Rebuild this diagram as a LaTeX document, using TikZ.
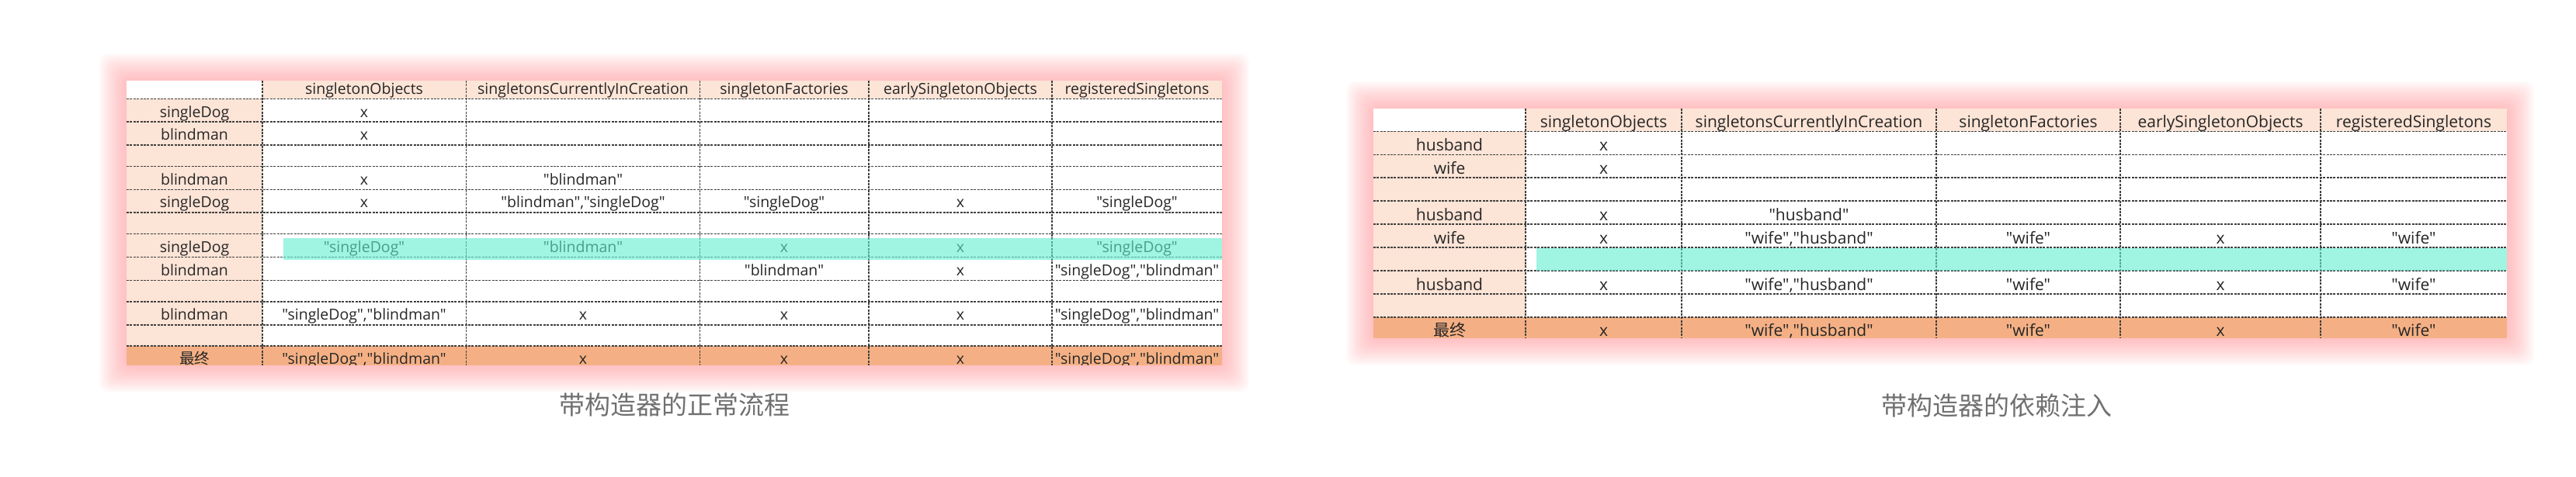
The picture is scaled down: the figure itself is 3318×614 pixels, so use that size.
\documentclass[tikz,border=0pt]{standalone}
\usepackage{fontspec}
\setmainfont{Open Sans}[Ligatures=TeXOff]
\newfontfamily\cjkfont{Noto Sans CJK SC}
\usetikzlibrary{positioning}
\definecolor{peach}{RGB}{252,228,214}
\definecolor{finalorange}{RGB}{244,176,132}
\definecolor{mint}{RGB}{95,238,207}
\definecolor{glowpink}{RGB}{255,125,130}
\definecolor{captiongray}{RGB}{112,112,112}
\tikzset{%
  gridline/.style = {dash pattern=on 3pt off 1.4pt,line width=1.3pt,black!75},
  glow/.style = {fill=glowpink,opacity=.04,rounded corners=12pt},
  cellA/.style = {anchor=base,inner sep=0pt,text=black!85,
        font=\fontsize{19.5}{20}\selectfont},
  cellB/.style = {anchor=base,inner sep=0pt,text=black!85,
        font=\fontsize{21}{22}\selectfont},
  caption/.style = {text=captiongray,font=\cjkfont\fontsize{33}{36}\selectfont}
}
\begin{document}
\begin{tikzpicture}[x=1pt,y=-1pt]
    \useasboundingbox (0,0) rectangle (3318,614);
    % glow round the first table
    \foreach \g in {1,...,16}
        \fill[glow] (163-2.2*\g,104-2.2*\g) rectangle (1574+2.2*\g,470.7+2.2*\g);
    % first table
    \begin{scope}
        \clip (163,104) rectangle (1574,470.7);
        \fill[white] (163,104) rectangle (1574,470.7);
        \fill[peach] (338,104) rectangle (1574,127.3);
        \fill[peach] (163,127.3) rectangle (338,446);
        \fill[finalorange] (163,446) rectangle (1574,470.7);
        % header
        \foreach \x/\txt [count=\c] in {469/singletonObjects,751/singletonsCurrentlyInCreation,
                1010/singletonFactories,1237/earlySingletonObjects,1464.5/registeredSingletons}
            \node[cellA] (p1h\c) at (\x,121.5) {\txt};
        % rows
        \foreach \x/\txt [count=\c] in {250.5/singleDog,469/x}
            \node[cellA] (p1a\c) at (\x,151) {\txt};
        \foreach \x/\txt [count=\c] in {250.5/blindman,469/x}
            \node[cellA] (p1b\c) at (\x,180.5) {\txt};
        \foreach \x/\txt [count=\c] in {250.5/blindman,469/x,751/"blindman"}
            \node[cellA] (p1c\c) at (\x,238.2) {\txt};
        \foreach \x/\txt [count=\c] in {250.5/singleDog,469/x,751/{"blindman","singleDog"},
                1010/"singleDog",1237/x,1464.5/"singleDog"}
            \node[cellA] (p1d\c) at (\x,267.8) {\txt};
        \foreach \x/\txt [count=\c] in {250.5/singleDog,469/"singleDog",751/"blindman",
                1010/x,1237/x,1464.5/"singleDog"}
            \node[cellA] (p1e\c) at (\x,325.5) {\txt};
        \foreach \x/\txt [count=\c] in {250.5/blindman,1010/"blindman",1237/x,
                1464.5/{"singleDog","blindman"}}
            \node[cellA] (p1f\c) at (\x,355.2) {\txt};
        \foreach \x/\txt [count=\c] in {250.5/blindman,469/{"singleDog","blindman"},751/x,
                1010/x,1237/x,1464.5/{"singleDog","blindman"}}
            \node[cellA] (p1g\c) at (\x,412.5) {\txt};
        \foreach \x/\txt [count=\c] in {250.5/{\cjkfont 最终},469/{"singleDog","blindman"},751/x,
                1010/x,1237/x,1464.5/{"singleDog","blindman"}}
            \node[cellA] (p1z\c) at (\x,469.5) {\txt};
        % dashed grid
        \foreach \y in {127.3,157,187,214.7,244.3,274,301.3,331.7,361.7,389,419,446}
            \draw[gridline] (163,\y) -- (1574,\y);
        \foreach \x in {338,600.5,901.5,1119,1355}
            \draw[gridline] (\x,104) -- (\x,470.7);
        % marked step
        \fill[mint,opacity=.6] (364.5,307.3) rectangle (1574,335);
    \end{scope}
    % glow round the second table
    \foreach \g in {1,...,16}
        \fill[glow] (1769-2.2*\g,140-2.2*\g) rectangle (3229+2.2*\g,435.7+2.2*\g);
    % second table
    \begin{scope}
        \clip (1769,140) rectangle (3229,435.7);
        \fill[white] (1769,140) rectangle (3229,435.7);
        \fill[peach] (1965,140) rectangle (3229,169.3);
        \fill[peach] (1769,169.3) rectangle (1965,409);
        \fill[finalorange] (1769,409) rectangle (3229,435.7);
        % header
        \foreach \x/\txt [count=\c] in {2065.5/singletonObjects,2330/singletonsCurrentlyInCreation,
                2612.5/singletonFactories,2860/earlySingletonObjects,3109/registeredSingletons}
            \node[cellB] (p2h\c) at (\x,164) {\txt};
        % rows
        \foreach \x/\txt [count=\c] in {1867/husband,2065.5/x}
            \node[cellB] (p2a\c) at (\x,194.3) {\txt};
        \foreach \x/\txt [count=\c] in {1867/wife,2065.5/x}
            \node[cellB] (p2b\c) at (\x,224.3) {\txt};
        \foreach \x/\txt [count=\c] in {1867/husband,2065.5/x,2330/"husband"}
            \node[cellB] (p2c\c) at (\x,284) {\txt};
        \foreach \x/\txt [count=\c] in {1867/wife,2065.5/x,2330/{"wife","husband"},
                2612.5/"wife",2860/x,3109/"wife"}
            \node[cellB] (p2d\c) at (\x,314) {\txt};
        \foreach \x/\txt [count=\c] in {1867/husband,2065.5/x,2330/{"wife","husband"},
                2612.5/"wife",2860/x,3109/"wife"}
            \node[cellB] (p2e\c) at (\x,374) {\txt};
        \foreach \x/\txt [count=\c] in {1867/{\cjkfont 最终},2065.5/x,2330/{"wife","husband"},
                2612.5/"wife",2860/x,3109/"wife"}
            \node[cellB] (p2z\c) at (\x,433.5) {\txt};
        % dashed grid
        \foreach \y in {169.3,199.3,229,259,289,319,349,379,409}
            \draw[gridline] (1769,\y) -- (3229,\y);
        \foreach \x in {1965,2166,2494,2731,2989}
            \draw[gridline] (\x,140) -- (\x,435.7);
        % marked step
        \fill[mint,opacity=.6] (1979,320) rectangle (3229,349);
    \end{scope}
    % captions
    \node[caption] (cap1) at (868.5,522) {带构造器的正常流程};
    \node[caption] (cap2) at (2572,523) {带构造器的依赖注入};
\end{tikzpicture}
\end{document}
